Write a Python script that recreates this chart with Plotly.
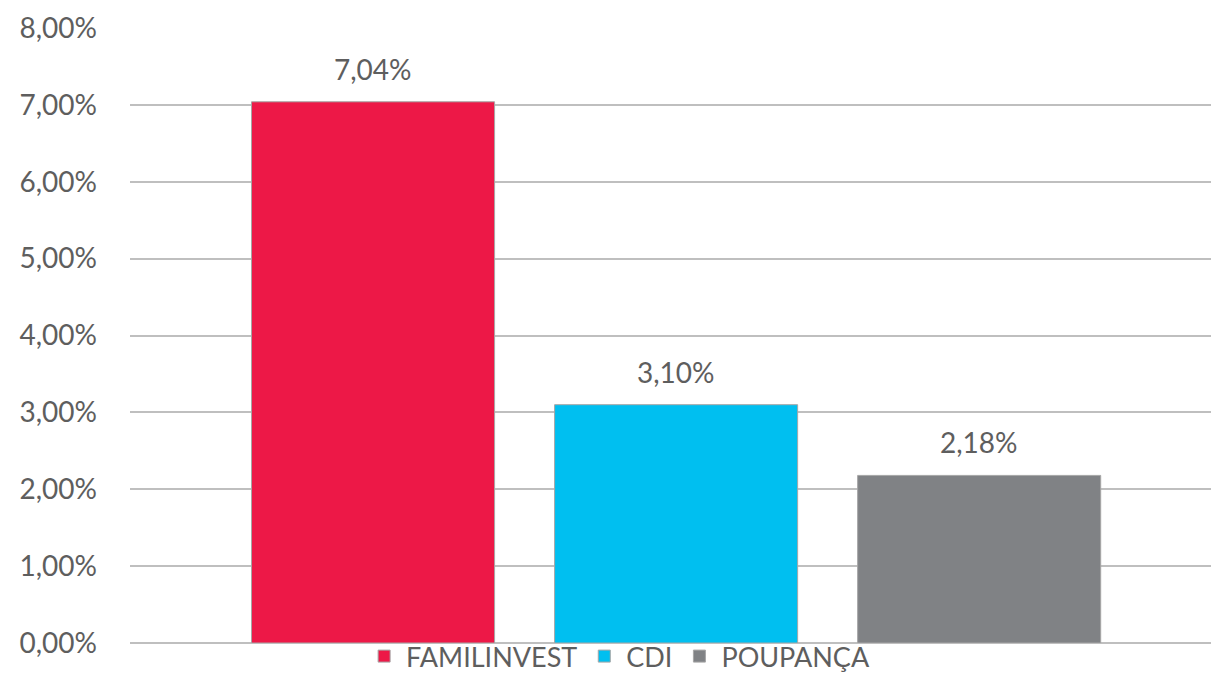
import plotly.graph_objects as go

series = ["FAMILINVEST", "CDI", "POUPANÇA"]
values = [0.0704, 0.0310, 0.0218]
colors = ["#ED1847", "#00BFF0", "#808285"]
tick_vals = [0, 0.01, 0.02, 0.03, 0.04, 0.05, 0.06, 0.07, 0.08]

FONT = "Lato, 'Open Sans', sans-serif"
TXT = "#5E5E5E"
fig = go.Figure()
for name, v, c in zip(series, values, colors):
    fig.add_trace(go.Bar(
        x=[name], y=[v], name=name,
        marker=dict(color=c, line=dict(color="#A6A6A6", width=1)),
        cliponaxis=False,
    ))
    fig.add_annotation(
        x=name, y=v, text=f"{v*100:.2f}%".replace(".", ","),
        showarrow=False, yanchor="bottom", yshift=14,
        font=dict(family=FONT, size=28, color=TXT),
    )

fig.update_layout(
    width=1211, height=673,
    margin=dict(l=130, r=0, t=28, b=30, autoexpand=False),
    paper_bgcolor="white", plot_bgcolor="white",
    separators=",.",
    bargap=0.198,
    font=dict(family=FONT, color=TXT),
    showlegend=True,
    legend=dict(orientation="h", x=0.452, xanchor="center", y=-0.022, yanchor="middle",
                font=dict(family=FONT, size=27, color=TXT),
                bgcolor="rgba(0,0,0,0)", tracegroupgap=0, itemwidth=34),
    xaxis=dict(showticklabels=False, showgrid=False, zeroline=False, showline=False,
               range=[-0.802, 2.765], automargin=False),
    yaxis=dict(range=[0, 0.08], tickvals=tick_vals, tickformat=".2%",
               showgrid=True, gridcolor="#BFBFBF", gridwidth=2,
               zeroline=True, zerolinecolor="#BFBFBF", zerolinewidth=2,
               showline=False, ticks="", ticklabelstandoff=32, automargin=False,
               tickfont=dict(family=FONT, size=28, color=TXT)),
)
fig.write_html("out.html", config={"displayModeBar": False},
               post_script="document.body.style.margin='0';")
